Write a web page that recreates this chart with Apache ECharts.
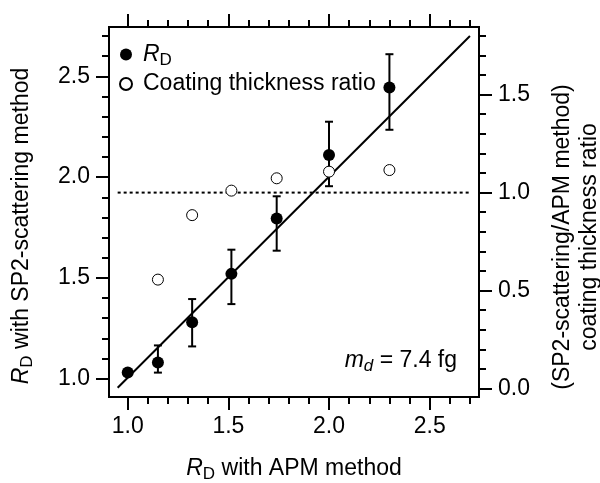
<!DOCTYPE html>
<html><head><meta charset="utf-8">
<script src="https://cdn.jsdelivr.net/npm/echarts@6/dist/echarts.min.js"></script>
<style>html,body{margin:0;padding:0;background:#fff}#c{width:600px;height:483px}</style>
</head><body><div id="c"></div>
<script>
const FONT = '"Liberation Sans", Arial, Helvetica, sans-serif';
// R_D data (left axis)
const rdX = [1.0, 1.15, 1.32, 1.515, 1.74, 2.0, 2.3];
const rdY = [1.03, 1.08, 1.28, 1.52, 1.795, 2.11, 2.445];
const rdLow = [1.03, 1.03, 1.16, 1.37, 1.635, 1.955, 2.235];
const rdHigh = [1.03, 1.165, 1.395, 1.64, 1.905, 2.275, 2.61];
// coating thickness ratio (right axis)
const ratioX = [1.15, 1.32, 1.515, 1.74, 2.0, 2.3];
const ratioY = [0.556, 0.885, 1.01, 1.073, 1.107, 1.115];
// fit line and reference line
const fitX = [0.95, 2.70];
const fitY = [0.955, 2.70];
const refX = [0.95, 2.70];
const refY = [1.0, 1.0];
// ticks
const xMajor = [1.0, 1.5, 2.0, 2.5];
const xMinor = [1.1, 1.2, 1.3, 1.4, 1.6, 1.7, 1.8, 1.9, 2.1, 2.2, 2.3, 2.4, 2.6, 2.7];
const yMajor = [1.0, 1.5, 2.0, 2.5];
const yMinor = [1.1, 1.2, 1.3, 1.4, 1.6, 1.7, 1.8, 1.9, 2.1, 2.2, 2.3, 2.4, 2.6, 2.7];
const rMajor = [0.0, 0.5, 1.0, 1.5];
const rMinor = [0.1, 0.2, 0.3, 0.4, 0.6, 0.7, 0.8, 0.9, 1.1, 1.2, 1.3, 1.4, 1.6, 1.7, 1.8];
const X_RANGE = [0.907, 2.745];
const Y_RANGE = [0.909, 2.745];
const R_RANGE = [-0.043, 1.845];

const FS = 23;
const rich = {
  i: {fontStyle: 'italic', fontSize: FS, fontFamily: FONT, lineHeight: 28, color: '#000'},
  n: {fontSize: FS, fontFamily: FONT, lineHeight: 28, color: '#000'},
  s: {fontSize: 17, fontFamily: FONT, lineHeight: 15, verticalAlign: 'bottom', color: '#000'},
  si: {fontSize: 17, fontStyle: 'italic', fontFamily: FONT, lineHeight: 15, verticalAlign: 'bottom', color: '#000'}
};
const lineStyle = {color: '#000', width: 2};
const fmt = v => v.toFixed(1);

function xAxisDef(pos, ticks, len, labels, name) {
  return {
    type: 'value', position: pos, min: X_RANGE[0], max: X_RANGE[1],
    axisLine: {show: true, onZero: false, lineStyle},
    axisTick: {show: true, inside: false, length: len, customValues: ticks, lineStyle},
    axisLabel: labels ? {show: true, customValues: ticks, formatter: fmt, fontSize: FS, fontFamily: FONT, color: '#000', margin: 18} : {show: false},
    splitLine: {show: false},
    name: name || '', nameLocation: 'middle', nameGap: 58,
    nameTextStyle: {rich, fontSize: FS, fontFamily: FONT, color: '#000'}
  };
}
function yAxisDef(pos, range, ticks, len, labels) {
  return {
    type: 'value', position: pos, min: range[0], max: range[1],
    axisLine: {show: true, onZero: false, lineStyle},
    axisTick: {show: true, inside: false, length: len, customValues: ticks, lineStyle},
    axisLabel: labels ? {show: true, customValues: ticks, formatter: fmt, fontSize: FS, fontFamily: FONT, color: '#000', margin: 19} : {show: false},
    splitLine: {show: false}
  };
}

const yLeft = yAxisDef('left', Y_RANGE, yMajor, 13, true);
yLeft.name = '{i|R}{s|D}{n| with SP2-scattering method}';
yLeft.nameLocation = 'middle';
yLeft.nameGap = 73;
yLeft.nameRotate = 90;
yLeft.nameTextStyle = {rich, fontSize: FS, fontFamily: FONT, color: '#000', padding: [0, 28, 0, 0]};

const yRight = yAxisDef('right', R_RANGE, rMajor, 13, true);
yRight.name = '(SP2-scattering/APM method)\ncoating thickness ratio';
yRight.nameLocation = 'middle';
yRight.nameGap = 70;
yRight.nameRotate = 90;
yRight.nameTextStyle = {fontSize: FS, fontFamily: FONT, color: '#000', lineHeight: 27, padding: [0, 50, 0, 0]};

const option = {
  backgroundColor: '#fff',
  animation: false,
  grid: {left: 109, right: 121, top: 27, bottom: 86, containLabel: false, outerBoundsMode: 'none'},
  xAxis: [
    xAxisDef('bottom', xMajor, 13, true, '{i|R}{s|D}{n| with APM method}'),
    xAxisDef('bottom', xMinor, 7, false),
    xAxisDef('top', xMajor, 13, false),
    xAxisDef('top', xMinor, 7, false)
  ],
  yAxis: [
    yLeft,
    yRight,
    yAxisDef('left', Y_RANGE, yMinor, 7, false),
    yAxisDef('right', R_RANGE, rMinor, 7, false)
  ],
  legend: {
    orient: 'vertical', left: 114, top: 38, itemWidth: 12, itemHeight: 12, itemGap: 4,
    icon: 'circle',
    data: ['RD', 'Coating thickness ratio'],
    formatter: n => n === 'RD' ? '{i|R}{s|D}' : '{n|Coating thickness ratio}',
    textStyle: {rich, fontSize: FS, fontFamily: FONT, color: '#000', padding: [0, 0, 0, 6]}
  },
  graphic: [{
    type: 'text', x: 457, y: 361,
    style: {text: '{i|m}{si|d}{n| = 7.4 fg}', rich, align: 'right', verticalAlign: 'middle', fontSize: FS, fontFamily: FONT, fill: '#000'}
  }],
  series: [
    {
      type: 'line', name: 'fit', xAxisIndex: 0, yAxisIndex: 0, symbol: 'none',
      data: fitX.map((x, i) => [x, fitY[i]]), lineStyle: {color: '#000', width: 2}, z: 2
    },
    {
      type: 'line', name: 'ref', xAxisIndex: 0, yAxisIndex: 1, symbol: 'none',
      data: refX.map((x, i) => [x, refY[i]]), lineStyle: {color: '#000', width: 2, type: [3, 3]}, z: 2
    },
    {
      type: 'custom', name: 'err', xAxisIndex: 0, yAxisIndex: 0, z: 3,
      data: rdX.map((x, i) => [x, rdLow[i], rdHigh[i]]),
      renderItem: (params, api) => {
        const x = api.value(0);
        const p1 = api.coord([x, api.value(1)]);
        const p2 = api.coord([x, api.value(2)]);
        const w = 4;
        const st = {stroke: '#000', lineWidth: 2};
        return {type: 'group', children: [
          {type: 'line', shape: {x1: p1[0], y1: p1[1], x2: p2[0], y2: p2[1]}, style: st},
          {type: 'line', shape: {x1: p1[0] - w, y1: p1[1], x2: p1[0] + w, y2: p1[1]}, style: st},
          {type: 'line', shape: {x1: p2[0] - w, y1: p2[1], x2: p2[0] + w, y2: p2[1]}, style: st}
        ]};
      }
    },
    {
      type: 'scatter', name: 'RD', xAxisIndex: 0, yAxisIndex: 0, symbol: 'circle', symbolSize: 12, z: 5,
      data: rdX.map((x, i) => [x, rdY[i]]), itemStyle: {color: '#000', opacity: 1}
    },
    {
      type: 'scatter', name: 'Coating thickness ratio', xAxisIndex: 0, yAxisIndex: 1, symbol: 'circle', symbolSize: 11, z: 5,
      data: ratioX.map((x, i) => [x, ratioY[i]]), itemStyle: {color: '#fff', borderColor: '#000', borderWidth: 1, opacity: 1}
    }
  ]
};
const chart = echarts.init(document.getElementById('c'), null, {renderer: 'canvas'});
chart.setOption(option);
</script></body></html>
